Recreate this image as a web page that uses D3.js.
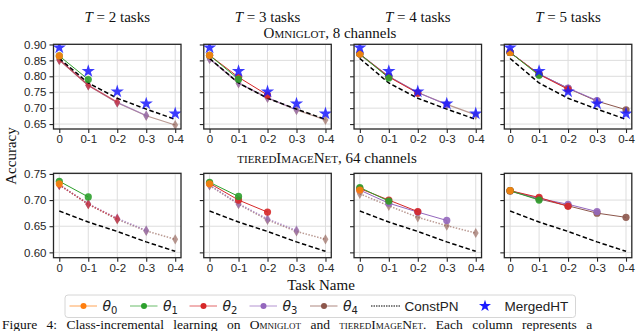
<!DOCTYPE html>
<html><head><meta charset="utf-8">
<script src="https://cdn.jsdelivr.net/npm/d3@7"></script>
<style>body{margin:0;background:#fff}svg{display:block}</style>
</head><body>
<svg id="c" width="640" height="331"></svg>
<script>
// ---------- data ----------
const tasks = ["0", "0-1", "0-2", "0-3", "0-4"];
const columnTitles = ["2", "3", "4", "5"];
const omniTicks = [0.65, 0.70, 0.75, 0.80, 0.85, 0.90];
const tieredTicks = [0.60, 0.65, 0.70, 0.75];
const seriesNames = ["θ0", "θ1", "θ2", "θ3", "θ4"];

const constPN_omni = [0.856, 0.779, 0.731, 0.697, 0.665];
const constPN_tiered = [0.679, 0.658, 0.640, 0.620, 0.602];
const mergedHT_omni = [0.890, 0.816, 0.752, 0.714, 0.683];

// theta curves per panel: index i = theta_i; values from task 0 onwards
const omni_T2 = [[0.864], [0.864, 0.790], [0.852, 0.772, 0.719], [0.852, 0.772, 0.718, 0.677], [0.851, 0.771, 0.717, 0.676, 0.647]];
const omni_T3 = [[0.866], [0.866, 0.791], [0.866, 0.797, 0.741], [0.855, 0.779, 0.733, 0.695], [0.855, 0.778, 0.732, 0.694, 0.663]];
const omni_T4 = [[0.870], [0.870, 0.795], [0.870, 0.798, 0.747], [0.870, 0.800, 0.749, 0.711], [0.868, 0.799, 0.749, 0.712, 0.679]];
const omni_T5 = [[0.875], [0.875, 0.803], [0.875, 0.806, 0.759], [0.875, 0.807, 0.763, 0.724], [0.875, 0.807, 0.762, 0.722, 0.695]];

const tiered_T2 = [[0.731], [0.736, 0.706], [0.729, 0.692, 0.664], [0.729, 0.693, 0.665, 0.642], [0.729, 0.692, 0.663, 0.641, 0.625]];
const tiered_T3 = [[0.731], [0.734, 0.707], [0.732, 0.700, 0.677], [0.729, 0.693, 0.664, 0.642], [0.728, 0.692, 0.662, 0.640, 0.625]];
const tiered_T4 = [[0.719], [0.724, 0.698], [0.722, 0.700, 0.678], [0.719, 0.694, 0.677, 0.661], [0.712, 0.689, 0.667, 0.651, 0.637]];
const tiered_T5 = [[0.718], [0.718, 0.700], [0.718, 0.705, 0.688], [0.718, 0.703, 0.692, 0.678], [0.717, 0.702, 0.689, 0.675, 0.667]];

const trainedCount = [2, 3, 4, 5];
const colors = ["#ff7f0e", "#2ca02c", "#d62728", "#9467bd", "#8c564b"];

// ---------- layout ----------
const svg = d3.select("#c");
const W = 127.5, pitch = 150.27, left0 = 53.5;
const rows = [
  {top: 44.3, bottom: 129, domain: [0.6345, 0.9005], ticks: omniTicks, fmt: d3.format(".2f"),
   panels: [omni_T2, omni_T3, omni_T4, omni_T5], constPN: constPN_omni, merged: mergedHT_omni, dotted: false},
  {top: 173.3, bottom: 257.7, domain: [0.5898, 0.7512], ticks: tieredTicks, fmt: d3.format(".2f"),
   panels: [tiered_T2, tiered_T3, tiered_T4, tiered_T5], constPN: constPN_tiered, merged: null, dotted: true}
];

const tickFont = "'Liberation Sans', Arial, sans-serif";
const serif = "'Liberation Serif', 'Times New Roman', serif";

rows.forEach((row, ri) => {
  row.panels.forEach((curves, ci) => {
    const x0 = left0 + ci * pitch;
    const x = d3.scaleLinear().domain([-0.2, 4.2]).range([x0, x0 + W]);
    const y = d3.scaleLinear().domain(row.domain).range([row.bottom, row.top]);
    const g = svg.append("g");
    const cid = `clip${ri}${ci}`;
    svg.append("clipPath").attr("id", cid).append("rect")
      .attr("x", x0).attr("y", row.top).attr("width", W).attr("height", row.bottom - row.top);

    // grid
    g.selectAll(".gx").data(d3.range(5)).join("line")
      .attr("x1", d => x(d)).attr("x2", d => x(d)).attr("y1", row.top).attr("y2", row.bottom)
      .attr("stroke", "#dddddd").attr("stroke-width", 1);
    g.selectAll(".gy").data(row.ticks).join("line")
      .attr("y1", d => y(d)).attr("y2", d => y(d)).attr("x1", x0).attr("x2", x0 + W)
      .attr("stroke", "#dddddd").attr("stroke-width", 1);

    const plot = g.append("g").attr("clip-path", `url(#${cid})`);
    const line = d3.line().x((d, i) => x(i)).y(d => y(d));
    const T = trainedCount[ci];

    // extrapolated (untrained) thetas first
    for (let i = 4; i >= T; i--) {
      const vals = curves[i];
      plot.append("path").attr("d", line(vals)).attr("fill", "none")
        .attr("stroke", colors[i]).attr("stroke-opacity", 0.6).attr("stroke-width", row.dotted ? 1.5 : 1.2)
        .attr("stroke-dasharray", row.dotted ? "1.5,1.5" : null);
      plot.selectAll(null).data(vals).join("path")
        .attr("transform", (d, k) => `translate(${x(k)},${y(d)})`)
        .attr("d", d3.symbol(d3.symbolDiamond, 30)())
        .attr("fill", colors[i]).attr("fill-opacity", 0.6);
    }
    // ConstPN
    plot.append("path").attr("d", line(row.constPN)).attr("fill", "none")
      .attr("stroke", "#000").attr("stroke-width", 1.5).attr("stroke-dasharray", "4.5,2.5");
    // trained thetas
    for (let i = T - 1; i >= 0; i--) {
      const vals = curves[i];
      plot.append("path").attr("d", line(vals)).attr("fill", "none")
        .attr("stroke", colors[i]).attr("stroke-width", 1);
      plot.selectAll(null).data(vals).join("circle")
        .attr("cx", (d, k) => x(k)).attr("cy", d => y(d)).attr("r", 3.6)
        .attr("fill", colors[i]).attr("fill-opacity", 0.9);
    }
    // MergedHT stars
    if (row.merged) {
      plot.selectAll(null).data(row.merged).join("path")
        .attr("transform", (d, k) => `translate(${x(k)},${y(d)})`)
        .attr("d", d3.symbol(d3.symbolStar, 55)())
        .attr("fill", "#1a1aff").attr("fill-opacity", 0.85);
    }

    // axes
    const ax = g.append("g").attr("transform", `translate(0,${row.bottom})`)
      .call(d3.axisBottom(x).tickValues(d3.range(5)).tickFormat(i => tasks[i]).tickSize(4).tickPadding(2));
    const ay = g.append("g").attr("transform", `translate(${x0},0)`)
      .call(d3.axisLeft(y).tickValues(row.ticks).tickFormat(ci === 0 ? row.fmt : () => "").tickSize(4).tickPadding(3));
    [ax, ay].forEach(a => {
      a.select(".domain").remove();
      a.selectAll(".tick line").attr("stroke", "#262626").attr("stroke-width", 1.1);
      a.selectAll("text").attr("font-family", tickFont).attr("font-size", 11.5).attr("fill", "#262626");
    });
    // frame
    g.append("rect").attr("x", x0).attr("y", row.top).attr("width", W).attr("height", row.bottom - row.top)
      .attr("fill", "none").attr("stroke", "#262626").attr("stroke-width", 1.3);

    // column titles
    if (ri === 0) {
      const t = svg.append("text").attr("x", x0 + W / 2).attr("y", 21.5).attr("text-anchor", "middle")
        .attr("font-family", serif).attr("font-size", 15).attr("fill", "#111");
      t.append("tspan").attr("font-style", "italic").text("T");
      t.append("tspan").text(` = ${columnTitles[ci]}  tasks`);
    }
  });
});

// row titles
svg.append("text").attr("x", 330).attr("y", 38).attr("text-anchor", "middle")
  .attr("font-family", serif).attr("font-size", 15).attr("fill", "#111")
  .html('<tspan style="font-variant:small-caps">Omniglot</tspan>, 8 channels');
svg.append("text").attr("x", 327).attr("y", 162.5).attr("text-anchor", "middle")
  .attr("font-family", serif).attr("font-size", 15).attr("fill", "#111")
  .html('<tspan style="font-variant:small-caps">tieredImageNet</tspan>, 64 channels');

// axis labels
svg.append("text").attr("transform", "translate(16,156) rotate(-90)").attr("text-anchor", "middle")
  .attr("font-family", serif).attr("font-size", 15).attr("fill", "#111").text("Accuracy");
svg.append("text").attr("x", 321).attr("y", 290).attr("text-anchor", "middle")
  .attr("font-family", serif).attr("font-size", 15).attr("fill", "#111").text("Task Name");

// legend
const lg = svg.append("g");
lg.append("rect").attr("x", 65).attr("y", 295).attr("width", 510.5).attr("height", 22.5).attr("rx", 3)
  .attr("fill", "#fff").attr("stroke", "#d6d6d6").attr("stroke-width", 1);
const ly = 306;
const thetaX = [69.5, 130, 189.5, 249.5, 310];
seriesNames.forEach((n, i) => {
  const lx = thetaX[i];
  lg.append("line").attr("x1", lx).attr("x2", lx + 27.5).attr("y1", ly).attr("y2", ly)
    .attr("stroke", colors[i]).attr("stroke-opacity", 0.7).attr("stroke-width", 1);
  lg.append("circle").attr("cx", lx + 14).attr("cy", ly).attr("r", 3).attr("fill", colors[i]);
  const t = lg.append("text").attr("x", lx + 33).attr("y", ly + 5).attr("font-family", "'DejaVu Sans', sans-serif")
    .attr("font-size", 14).attr("fill", "#222");
  t.append("tspan").attr("font-style", "italic").text(n[0]);
  t.append("tspan").attr("font-size", 10).attr("dy", 3).text(n[1]);
});
lg.append("line").attr("x1", 371).attr("x2", 400).attr("y1", ly).attr("y2", ly)
  .attr("stroke", "#000").attr("stroke-width", 1).attr("stroke-dasharray", "1.5,1");
lg.append("text").attr("x", 404.5).attr("y", ly + 5).attr("font-family", tickFont).attr("font-size", 13.5)
  .attr("fill", "#222").text("ConstPN");
lg.append("path").attr("transform", `translate(485,${ly})`).attr("d", d3.symbol(d3.symbolStar, 45)())
  .attr("fill", "#1a1aff");
lg.append("text").attr("x", 504.5).attr("y", ly + 5).attr("font-family", tickFont).attr("font-size", 13.5)
  .attr("fill", "#222").text("MergedHT");

// caption at the bottom
svg.append("text").attr("x", 2).attr("y", 329).attr("font-family", serif).attr("font-size", 13.5)
  .attr("fill", "#111").style("word-spacing", "6px")
  .html('Figure 4:  Class-incremental learning on <tspan style="font-variant:small-caps">Omniglot</tspan> and <tspan style="font-variant:small-caps">tieredImageNet</tspan>.  Each column represents a');
</script>
</body></html>
